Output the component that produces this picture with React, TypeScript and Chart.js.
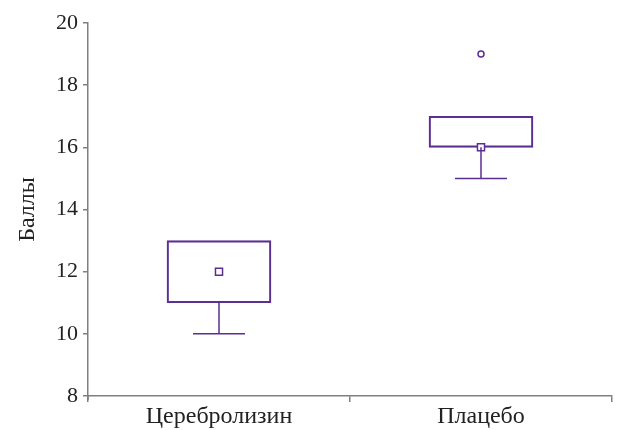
import React, { useEffect, useRef } from "react";
import { Chart, registerables } from "chart.js";

Chart.register(...registerables);

const categories = ["Церебролизин", "Плацебо"];
const q1 = [11, 16];
const q3 = [13, 17];
const medians = [12, 16];
const whiskerLow = [10, 15];
const whiskerHigh = [13, 17];
const outliers = [[], [19]];
const yTicks = [8, 10, 12, 14, 16, 18, 20];
const yTitle = "Баллы";

const PURPLE = "#5b2e93";
const AXIS = "#7f7f7f";
const FONT = "'Liberation Serif', 'Times New Roman', serif";

const whiskerPlugin = {
  id: "whiskers",
  afterDatasetsDraw(chart: any) {
    const x = chart.scales.x;
    const y = chart.scales.y;
    const ctx = chart.ctx;
    ctx.save();
    ctx.strokeStyle = PURPLE;
    ctx.lineWidth = 1.5;
    const capHalf = 26;
    categories.forEach((_, i) => {
      const cx = x.getPixelForValue(i);
      const yLow = y.getPixelForValue(whiskerLow[i]);
      const yQ1 = y.getPixelForValue(q1[i]);
      const yHigh = y.getPixelForValue(whiskerHigh[i]);
      const yQ3 = y.getPixelForValue(q3[i]);
      ctx.beginPath();
      if (whiskerLow[i] < q1[i]) {
        ctx.moveTo(cx, yQ1);
        ctx.lineTo(cx, yLow);
        ctx.moveTo(cx - capHalf, yLow);
        ctx.lineTo(cx + capHalf, yLow);
      }
      if (whiskerHigh[i] > q3[i]) {
        ctx.moveTo(cx, yQ3);
        ctx.lineTo(cx, yHigh);
        ctx.moveTo(cx - capHalf, yHigh);
        ctx.lineTo(cx + capHalf, yHigh);
      }
      ctx.stroke();
    });
    // small extension of the y axis line below the x axis
    ctx.strokeStyle = AXIS;
    ctx.beginPath();
    ctx.moveTo(chart.chartArea.left, chart.chartArea.bottom);
    ctx.lineTo(chart.chartArea.left, chart.chartArea.bottom + 4);
    ctx.stroke();
    ctx.restore();
  },
};

export default function App() {
  const ref = useRef<HTMLCanvasElement | null>(null);
  useEffect(() => {
    if (!ref.current) return;
    const outlierData: { x: string; y: number }[] = [];
    outliers.forEach((arr, i) => arr.forEach((v) => outlierData.push({ x: categories[i], y: v })));
    const chart = new Chart(ref.current, {
      type: "bar",
      data: {
        labels: categories,
        datasets: [
          {
            type: "bar",
            data: categories.map((_, i) => [q1[i], q3[i]]) as any,
            backgroundColor: "rgba(255,255,255,0)",
            borderColor: PURPLE,
            borderWidth: 1.5,
            borderSkipped: false,
            barThickness: 104,
            grouped: false,
            order: 3,
          } as any,
          {
            type: "scatter",
            data: categories.map((c, i) => ({ x: c, y: medians[i] })) as any,
            pointStyle: "rect",
            pointRadius: 5,
            pointBorderWidth: 1.5,
            pointBackgroundColor: "#ffffff",
            pointBorderColor: PURPLE,
            showLine: false,
            order: 1,
          } as any,
          {
            type: "scatter",
            data: outlierData as any,
            pointStyle: "circle",
            pointRadius: 3,
            pointBorderWidth: 1.5,
            pointBackgroundColor: "#ffffff",
            pointBorderColor: PURPLE,
            showLine: false,
            order: 1,
          } as any,
        ],
      },
      options: {
        animation: false,
        responsive: true,
        maintainAspectRatio: false,
        layout: { padding: { left: 9, top: 23, right: 13, bottom: 0 } },
        plugins: { legend: { display: false }, tooltip: { enabled: false } },
        scales: {
          x: {
            type: "category",
            offset: true,
            grid: {
              offset: true,
              drawOnChartArea: false,
              drawTicks: true,
              tickLength: 6,
              color: AXIS,
              lineWidth: 1.5,
            },
            border: { color: AXIS, width: 1.5 },
            ticks: { color: "#222", font: { family: FONT, size: 24 }, padding: 0 },
            afterFit: (s: any) => {
              s.height = 34;
            },
          },
          y: {
            min: 8,
            max: 20,
            afterBuildTicks: (s: any) => {
              s.ticks = yTicks.map((v) => ({ value: v }));
            },
            grid: {
              drawOnChartArea: false,
              drawTicks: true,
              tickLength: 5,
              color: AXIS,
              lineWidth: 1.5,
            },
            border: { color: AXIS, width: 1.5 },
            ticks: { color: "#222", font: { family: FONT, size: 22 }, padding: 5 },
            title: {
              display: true,
              text: yTitle,
              color: "#222",
              font: { family: FONT, size: 24 },
            },
            afterFit: (s: any) => {
              s.width = 79;
            },
          },
        },
      },
      plugins: [whiskerPlugin],
    });
    return () => chart.destroy();
  }, []);
  return (
    <div style={{ position: "fixed", left: 0, top: 0, width: 625, height: 430, background: "#fff" }}>
      <canvas ref={ref} />
    </div>
  );
}
